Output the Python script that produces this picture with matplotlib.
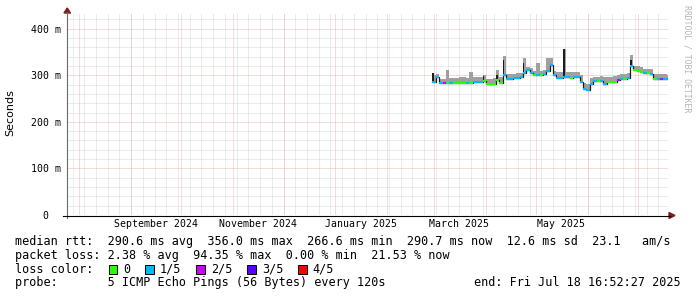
import matplotlib
matplotlib.use('Agg')
import matplotlib.pyplot as plt
import matplotlib.dates as mdates
from matplotlib.patches import Rectangle, Polygon
from matplotlib.lines import Line2D
import numpy as np
import pandas as pd

# ---------------- data ----------------
sample_start = '2025-02-28'
sample_step_days = 2
median_ms = [285, 297, 283, 283, 283, 284, 283, 283, 283, 283,
             284, 284, 285, 286, 285, 288, 281, 281, 281, 289,
             283, 300, 292, 293, 294, 295, 296, 305, 311, 305,
             300, 300, 301, 302, 310, 322, 300, 295, 295, 296,
             296, 295, 296, 297, 285, 270, 268, 282, 288, 288,
             287, 282, 286, 286, 286, 290, 292, 293, 295, 320,
             311, 310, 308, 304, 304, 303, 293, 293, 293, 293, 291]
smoke_top_ms = [300, 303, 292, 293, 311, 294, 295, 294, 296, 296,
                295, 308, 296, 297, 297, 300, 292, 293, 295, 311,
                296, 341, 302, 302, 303, 304, 305, 336, 318, 316,
                310, 326, 310, 311, 337, 337, 310, 306, 306, 356,
                307, 306, 307, 307, 300, 283, 282, 295, 297, 297,
                298, 296, 297, 297, 298, 300, 302, 303, 305, 343,
                320, 319, 318, 314, 313, 314, 302, 302, 303, 303, 301]
loss_level = [1, 1, 1, 2, 0, 1, 0, 0, 0, 0,
              1, 0, 1, 1, 1, 0, 0, 0, 0, 0,
              0, 1, 1, 1, 1, 1, 1, 1, 1, 1,
              0, 1, 0, 1, 1, 1, 1, 1, 1, 1,
              1, 0, 1, 1, 1, 1, 1, 1, 1, 0,
              1, 1, 0, 0, 0, 2, 1, 0, 1, 1,
              0, 0, 0, 1, 0, 1, 0, 1, 2, 1, 1]
spike_top_ms = [305, 0, 0, 0, 0, 0, 0, 0, 0, 0,
                0, 0, 0, 0, 0, 298, 0, 0, 0, 300,
                0, 333, 0, 0, 0, 0, 0, 326, 0, 0,
                0, 0, 0, 0, 0, 0, 0, 0, 0, 356,
                0, 0, 0, 0, 0, 0, 0, 0, 0, 0,
                0, 0, 0, 0, 0, 0, 0, 0, 0, 333,
                0, 0, 0, 0, 0, 0, 0, 0, 0, 0, 0]

loss_labels = ['0', '1/5', '2/5', '3/5', '4/5']
loss_colors = ['#26ff00', '#00b8ff', '#c800ff', '#5a00ff', '#ff0000']

x_start = '2024-07-24 15:36'
x_end = '2025-07-18 16:52:27'
month_label_dates = ['2024-09-16', '2024-11-16', '2025-01-16', '2025-03-16', '2025-05-16']
month_labels = ['September 2024', 'November 2024', 'January 2025', 'March 2025', 'May 2025']

y_ticks = [0, 100, 200, 300, 400]
y_tick_labels = ['0  ', '100 m', '200 m', '300 m', '400 m']
y_max = 433

stat_rtt = "median rtt:  290.6 ms avg  356.0 ms max  266.6 ms min  290.7 ms now  12.6 ms sd  23.1   am/s"
stat_loss = "packet loss: 2.38 % avg  94.35 % max  0.00 % min  21.53 % now"
stat_color = "loss color:"
stat_probe = "probe:       5 ICMP Echo Pings (56 Bytes) every 120s"
stat_end = "end: Fri Jul 18 16:52:27 2025"
watermark = "RRDTOOL / TOBI OETIKER"

# ---------------- figure ----------------
W, H = 697, 297
fig = plt.figure(figsize=(W / 100, H / 100), dpi=100)
fig.patch.set_facecolor('white')
MONO = 'DejaVu Sans Mono'

L, R, T, B = 67, 668, 13.3, 215
ax = fig.add_axes([L / W, 1 - B / H, (R - L) / W, (B - T) / H])
ax.set_facecolor('white')
for s in ax.spines.values():
    s.set_visible(False)

ts0, ts1 = pd.Timestamp(x_start), pd.Timestamp(x_end)
t0, t1 = mdates.date2num(ts0), mdates.date2num(ts1)
ax.set_xlim(t0, t1)
ax.set_ylim(0, y_max)

# grid
minor_c = '#d8d8d8'
major_c = '#efb8b8'
dots = (0, (1, 1))
weeks = mdates.date2num(pd.date_range(ts0.normalize(), ts1, freq='W-SUN'))
months = mdates.date2num(pd.date_range(ts0.normalize(), ts1, freq='MS'))
gkw = dict(lw=0.72, ls=dots)
for w in weeks:
    if t0 < w < t1:
        ax.axvline(w, color=minor_c, zorder=1, **gkw)
for v in range(20, y_max, 20):
    if v % 100:
        ax.axhline(v, color=minor_c, zorder=1, **gkw)
for m in months:
    if t0 < m < t1:
        ax.axvline(m, color=major_c, zorder=1.5, **gkw)
for v in y_ticks[1:]:
    ax.axhline(v, color=major_c, zorder=1.5, **gkw)

# data
dates = pd.date_range(sample_start, periods=len(median_ms), freq=f'{sample_step_days}D')
x = mdates.date2num(dates)
med = np.array(median_ms, float)
top = np.array(smoke_top_ms, float)
spk = np.array(spike_top_ms, float)

ax.bar(x, top - med, bottom=med, width=sample_step_days, align='edge',
       color='#a0a0a0', linewidth=0, zorder=3)
has = spk > 0
ax.bar(x[has], spk[has] - med[has], bottom=med[has], width=0.9, align='edge',
       color='#1c1c1c', linewidth=0, zorder=4)
ax.step(np.append(x, x[-1] + sample_step_days), np.append(med, med[-1]), where='post',
        color='#1c1c1c', lw=0.9, zorder=4)
ax.hlines(med, x, x + sample_step_days, colors=[loss_colors[i] for i in loss_level],
          lw=1.5, zorder=5)

# ticks
ax.set_yticks(y_ticks, y_tick_labels)
ax.set_xticks(mdates.date2num(pd.to_datetime(month_label_dates)), month_labels)
ax.tick_params(axis='both', length=0, labelsize=7.1)
ax.tick_params(axis='y', pad=4.3)
ax.tick_params(axis='x', pad=3.0)
for lab in ax.get_xticklabels() + ax.get_yticklabels():
    lab.set_fontfamily(MONO)

# axes lines & arrows (pixel coords)
def fx(px):
    return px / W
def fy(py):
    return 1 - py / H

fig.add_artist(Line2D([fx(67), fx(67)], [fy(218), fy(12)], color='#6a6a6a', lw=0.8))
fig.add_artist(Line2D([fx(63), fx(670)], [fy(215.5), fy(215.5)], color='#000000', lw=0.8))
fig.add_artist(Polygon([[fx(64), fy(13)], [fx(70.5), fy(13)], [fx(67.2), fy(8)]],
                       closed=True, color='#801c1c', transform=fig.transFigure))
fig.add_artist(Polygon([[fx(669), fy(212.5)], [fx(669), fy(218.5)], [fx(675), fy(215.5)]],
                       closed=True, color='#801c1c', transform=fig.transFigure))

# labels
fig.text(fx(10), fy(113), 'Seconds', rotation=90, ha='center', va='center',
         fontsize=8.0, fontfamily='DejaVu Sans')
fig.text(fx(686.5), fy(5), watermark, rotation=270, ha='center', va='top',
         fontsize=5.9, fontfamily=MONO, color='#b4b4b4')

fs = 8.47
tx = 15
fig.text(fx(tx), fy(241.5), stat_rtt, fontsize=fs, fontfamily=MONO, va='center', ha='left')
fig.text(fx(tx), fy(255.3), stat_loss, fontsize=fs, fontfamily=MONO, va='center', ha='left')
fig.text(fx(tx), fy(269.1), stat_color, fontsize=fs, fontfamily=MONO, va='center', ha='left')
fig.text(fx(tx), fy(282.9), stat_probe, fontsize=fs, fontfamily=MONO, va='center', ha='left')
fig.text(fx(680.5), fy(282.9), stat_end, fontsize=fs, fontfamily=MONO, va='center', ha='right')

box_x = [108.5, 145.3, 196.3, 247.0, 298.0]
for bx, lab, col in zip(box_x, loss_labels, loss_colors):
    fig.add_artist(Rectangle((fx(bx), fy(273.5)), 8.5 / W, 8.5 / H, transform=fig.transFigure,
                             facecolor=col, edgecolor='black', lw=0.7))
    fig.text(fx(bx + 14.8), fy(269.1), lab, fontsize=fs, fontfamily=MONO, va='center', ha='left')

fig.savefig('out.png', dpi=100, facecolor='white')
